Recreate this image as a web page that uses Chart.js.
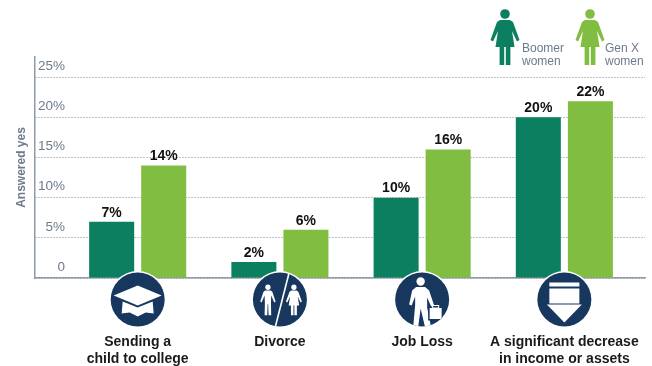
<!DOCTYPE html>
<html>
<head>
<meta charset="utf-8">
<title>Answered yes</title>
<script src="https://cdn.jsdelivr.net/npm/chart.js@4"></script>
<style>
  html, body { margin: 0; padding: 0; background: #fff; }
  canvas { display: block; }
</style>
</head>
<body>
<canvas id="chart" width="652" height="366"></canvas>
<script>
var categories = [['Sending a', 'child to college'], ['Divorce'], ['Job Loss'], ['A significant decrease', 'in income or assets']];
var boomerWomen = [7, 2, 10, 20];
var genXWomen = [14, 6, 16, 22];
var yTicks = [0, 5, 10, 15, 20, 25];
var seriesNames = [['Boomer', 'women'], ['Gen X', 'women']];

var DARK_GREEN = '#0b7f5f';
var LIGHT_GREEN = '#80bd41';
var NAVY = '#17375f';
var GREY = '#6d7a8b';
var FONT = '"Liberation Sans", Arial, sans-serif';

function toPoints(values) {
    return values.map(function (v, i) { return { x: i, y: v }; });
}

function poly(ctx, pts) {
    ctx.beginPath();
    ctx.moveTo(pts[0][0], pts[0][1]);
    for (var i = 1; i < pts.length; i++) ctx.lineTo(pts[i][0], pts[i][1]);
    ctx.closePath();
    ctx.fill();
}

function head(ctx, x, y, r) {
    ctx.beginPath();
    ctx.arc(x, y, r, 0, Math.PI * 2);
    ctx.fill();
}

// standing woman, 56 units tall, origin at top centre
function woman(ctx, cx, top, s, color) {
    ctx.save();
    ctx.translate(cx, top);
    ctx.scale(s, s);
    ctx.fillStyle = color;
    head(ctx, 0, 5, 4.8);
    poly(ctx, [[-5, 11], [5, 11], [8, 13], [14.5, 31], [12, 32.5], [7, 22], [9.5, 38], [5.4, 38], [5.4, 56], [0.8, 56], [0.8, 38],
        [-0.8, 38], [-0.8, 56], [-5.4, 56], [-5.4, 38], [-9.5, 38], [-7, 22], [-12, 32.5], [-14.5, 31], [-8, 13]]);
    ctx.restore();
}

// standing man, same proportions
function man(ctx, cx, top, s, color) {
    ctx.save();
    ctx.translate(cx, top);
    ctx.scale(s, s);
    ctx.fillStyle = color;
    head(ctx, 0, 5, 4.8);
    poly(ctx, [[-5, 11], [5, 11], [8, 13], [14, 31], [11.5, 32.5], [6, 20], [5.5, 34], [6, 56], [1.2, 56], [0.5, 36],
        [-0.5, 36], [-1.2, 56], [-6, 56], [-5.5, 34], [-6, 20], [-11.5, 32.5], [-14, 31], [-8, 13]]);
    ctx.restore();
}

function capIcon(ctx) {
    ctx.fillStyle = '#fff';
    poly(ctx, [[-24, -4], [0, -14], [24, -4], [0, 6]]);
    poly(ctx, [[-15, 2], [0, 8], [15, 2], [16, 14], [8, 13], [0, 17], [-8, 13], [-16, 14]]);
}

function divorceIcon(ctx) {
    man(ctx, -12, -15, 0.55, '#fff');
    woman(ctx, 14, -15, 0.55, '#fff');
    ctx.strokeStyle = '#fff';
    ctx.lineWidth = 1.6;
    ctx.beginPath();
    ctx.moveTo(9, -26);
    ctx.lineTo(-4.5, 27);
    ctx.stroke();
}

function jobLossIcon(ctx) {
    ctx.fillStyle = '#fff';
    head(ctx, -1.5, -18, 4.2);
    poly(ctx, [[-6, -12.5], [3, -12.5], [7, -9], [12, 6], [9.5, 8], [5, -2], [5, 8], [9, 28], [3, 28], [-1.5, 9],
        [-4, 28], [-9, 28], [-7, 6], [-7, -3], [-10.5, 6], [-13, 5], [-10, -9]]);
    ctx.fillStyle = NAVY;
    ctx.fillRect(6, 7, 14.5, 14);
    ctx.fillStyle = '#fff';
    ctx.fillRect(7.5, 8.5, 12, 11);
    ctx.strokeStyle = '#fff';
    ctx.lineWidth = 1;
    ctx.strokeRect(10.5, 6, 6, 2.5);
}

function decreaseIcon(ctx) {
    ctx.fillStyle = '#fff';
    ctx.fillRect(-15, -17, 30, 4);
    ctx.fillRect(-15, -11, 30, 15);
    poly(ctx, [[-17.5, 5], [17.5, 5], [0, 23]]);
}

var icons = [capIcon, divorceIcon, jobLossIcon, decreaseIcon];

// value labels, y tick labels sitting above their grid lines, icons on the axis and the key
var decorations = {
    id: 'decorations',
    afterDatasetsDraw: function (chart) {
        var ctx = chart.ctx;
        var xScale = chart.scales.x;
        var yScale = chart.scales.y;
        var axisY = yScale.getPixelForValue(0);

        ctx.save();
        ctx.font = '13.5px ' + FONT;
        ctx.fillStyle = GREY;
        ctx.textAlign = 'right';
        ctx.textBaseline = 'middle';
        yTicks.forEach(function (v) {
            ctx.fillText(v === 0 ? '0' : v + '%', 65, yScale.getPixelForValue(v) - 11);
        });

        ctx.font = 'bold 14px ' + FONT;
        ctx.fillStyle = '#111';
        ctx.textAlign = 'center';
        ctx.textBaseline = 'bottom';
        chart.data.datasets.forEach(function (ds, d) {
            chart.getDatasetMeta(d).data.forEach(function (bar, i) {
                ctx.fillText(ds.data[i].y + '%', bar.x, bar.y - 2);
            });
        });

        categories.forEach(function (c, i) {
            var cx = xScale.getPixelForValue(i);
            var cy = axisY + 21.5;
            ctx.save();
            ctx.translate(cx, cy);
            ctx.beginPath();
            ctx.arc(0, 0, 28.5, 0, Math.PI * 2);
            ctx.fillStyle = '#fff';
            ctx.fill();
            ctx.beginPath();
            ctx.arc(0, 0, 27, 0, Math.PI * 2);
            ctx.fillStyle = NAVY;
            ctx.fill();
            ctx.clip();
            icons[i](ctx);
            ctx.restore();
        });

        woman(ctx, 505, 9, 1, DARK_GREEN);
        woman(ctx, 590, 9, 1, LIGHT_GREEN);
        ctx.font = '12px ' + FONT;
        ctx.fillStyle = GREY;
        ctx.textAlign = 'left';
        ctx.textBaseline = 'alphabetic';
        ctx.fillText(seriesNames[0][0], 522, 52);
        ctx.fillText(seriesNames[0][1], 522, 65);
        ctx.fillText(seriesNames[1][0], 605, 52);
        ctx.fillText(seriesNames[1][1], 605, 65);
        ctx.restore();
    }
};

var ctx = document.getElementById('chart').getContext('2d');
new Chart(ctx, {
    type: 'bar',
    data: {
        datasets: [
            { label: seriesNames[0].join(' '), data: toPoints(boomerWomen), backgroundColor: DARK_GREEN, borderWidth: 0 },
            { label: seriesNames[1].join(' '), data: toPoints(genXWomen), backgroundColor: LIGHT_GREEN, borderWidth: 0 }
        ]
    },
    options: {
        responsive: false,
        animation: false,
        datasets: { bar: { categoryPercentage: 0.732, barPercentage: 0.865 } },
        layout: { padding: { top: 57, right: 7, left: 0, bottom: 0 } },
        plugins: { legend: { display: false }, tooltip: { enabled: false } },
        scales: {
            x: {
                type: 'linear',
                offset: false,
                min: -0.722,
                max: 3.567,
                grid: { display: false },
                border: { color: '#8f9aa8', width: 1.5 },
                afterBuildTicks: function (axis) {
                    axis.ticks = categories.map(function (c, i) { return { value: i }; });
                },
                afterFit: function (axis) {
                    axis.height = 88;
                    axis.paddingLeft = 0;
                    axis.paddingRight = 0;
                },
                ticks: {
                    autoSkip: false,
                    maxRotation: 0,
                    padding: 47,
                    color: '#1a1a1a',
                    font: { family: FONT, size: 14, weight: 'bold', lineHeight: 1.25 },
                    callback: function (v) { return categories[v]; }
                }
            },
            y: {
                min: 0,
                max: 27.5,
                afterBuildTicks: function (axis) {
                    axis.ticks = yTicks.map(function (v) { return { value: v }; });
                },
                afterFit: function (axis) { axis.width = 35; },
                grid: {
                    drawTicks: false,
                    color: '#7f8894',
                    lineWidth: 1
                },
                border: { color: '#8f9aa8', width: 1.5, dash: [1, 2] },
                title: {
                    display: true,
                    text: 'Answered yes',
                    color: GREY,
                    font: { family: FONT, size: 12, weight: 'bold' },
                    padding: { top: 14, bottom: 0 }
                },
                ticks: { display: false }
            }
        }
    },
    plugins: [decorations]
});
</script>
</body>
</html>
